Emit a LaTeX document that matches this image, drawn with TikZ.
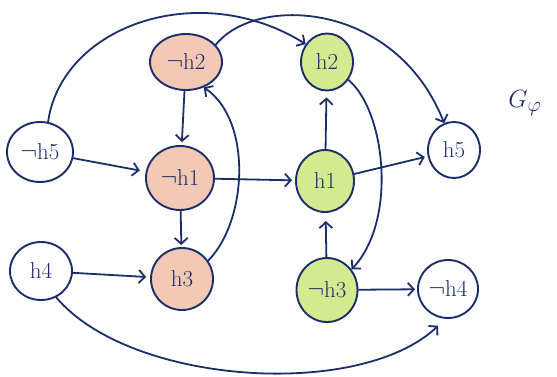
\documentclass[tikz,border=0pt]{standalone}
\usetikzlibrary{shapes.geometric,arrows.meta}
\definecolor{ink}{HTML}{1B2D6B}
\definecolor{redfill}{HTML}{F3C8B4}
\definecolor{greenfill}{HTML}{D3EA8E}
\tikzset{
  lit/.style={ellipse, draw=ink, line width=1.9pt, inner sep=0pt,
    font=\fontsize{23}{23}\selectfont, text=ink},
  redlit/.style={lit, fill=redfill},
  greenlit/.style={lit, fill=greenfill},
  edge/.style={draw=ink, line width=1.8pt, line cap=round,
    -{Straight Barb[length=6pt,width=13pt,line width=1.8pt]}},
}
\newcommand{\nt}{$\neg$}
\begin{document}
\begin{tikzpicture}[x=1pt,y=-1pt]
\useasboundingbox (0,0) rectangle (557,376);

% literal nodes
\node[lit, minimum width=66pt, minimum height=60pt] (nh5) at (40,152) {\nt h5};
\node[lit, minimum width=62pt, minimum height=58pt] (h4) at (41,271) {h4};
\node[redlit, minimum width=72pt, minimum height=56pt] (nh2) at (186,62) {\nt h2};
\node[redlit, minimum width=68pt, minimum height=64pt] (nh1) at (180,178) {\nt h1};
\node[redlit, minimum width=62pt, minimum height=62pt] (h3) at (182,279) {h3};
\node[greenlit, minimum width=52pt, minimum height=57pt] (h2) at (327,62) {h2};
\node[greenlit, minimum width=58pt, minimum height=62pt] (h1) at (325,181) {h1};
\node[greenlit, minimum width=61pt, minimum height=64pt] (nh3) at (327,290) {\nt h3};
\node[lit, minimum width=52pt, minimum height=56pt] (h5) at (454,150) {h5};
\node[lit, minimum width=60pt, minimum height=58pt] (nh4) at (448,289) {\nt h4};

\node[text=ink, font=\fontsize{30}{30}\selectfont] (gphi) at (525,103) {$G_{\varphi}$};

% straight implications
\draw[edge, shorten >=6pt] (nh5) -- (nh1);
\draw[edge, shorten >=3pt] (nh2) -- (nh1);
\draw[edge, shorten >=2pt] (nh1) -- (h3);
\draw[edge, shorten >=3pt] (nh1) -- (h1);
\draw[edge, shorten >=6pt] (h1) -- (h2);
\draw[edge, shorten >=8pt] (nh3) -- (h1);
\draw[edge, shorten >=3pt] (h1) -- (h5);
\draw[edge, shorten >=2pt] (nh3) -- (nh4);
\draw[edge, shorten >=4pt] (h4) -- (h3);

% curved implications
\draw[edge] (nh5.75) .. controls (62,25) and (200,-22) .. (h2.140);
\draw[edge] (nh2.30) .. controls (255,-5) and (395,0) .. (h5.110);
\draw[edge] (h3.35) .. controls (248,220) and (252,120) .. (nh2.-55);
\draw[edge] (h2.-40) .. controls (385,110) and (398,220) .. (nh3.40);
\draw[edge, shorten >=10pt] (h4.-60) .. controls (130,385) and (360,400) .. (nh4.-95);
\end{tikzpicture}
\end{document}
